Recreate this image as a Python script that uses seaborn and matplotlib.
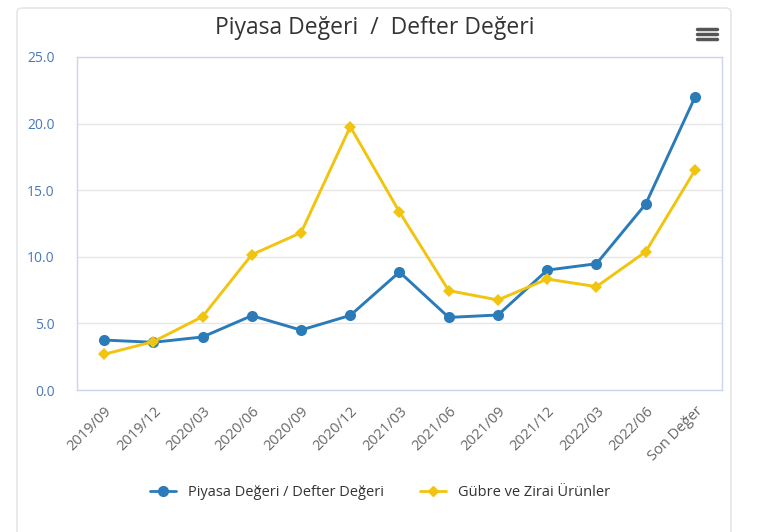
import pandas as pd
import seaborn as sns
import matplotlib.pyplot as plt
from matplotlib.patches import FancyBboxPatch

# veriler
donemler = ['2019/09', '2019/12', '2020/03', '2020/06', '2020/09', '2020/12',
            '2021/03', '2021/06', '2021/09', '2021/12', '2022/03', '2022/06', 'Son Değer']
piyasa_defter = [3.75, 3.58, 3.98, 5.58, 4.5, 5.6, 8.86, 5.45, 5.63, 9.0, 9.48, 13.96, 21.97]
gubre_zirai = [2.68, 3.63, 5.51, 10.16, 11.81, 19.77, 13.36, 7.46, 6.76, 8.33, 7.76, 10.38, 16.49]

seri1 = 'Piyasa Değeri / Defter Değeri'
seri2 = 'Gübre ve Zirai Ürünler'

df = pd.concat([
    pd.DataFrame({'donem': donemler, 'deger': piyasa_defter, 'seri': seri1}),
    pd.DataFrame({'donem': donemler, 'deger': gubre_zirai, 'seri': seri2}),
])
df['x'] = df.groupby('seri').cumcount()

sns.set_style('white')
plt.rcParams['font.family'] = ['Open Sans', 'DejaVu Sans']

fig = plt.figure(figsize=(7.59, 5.32), dpi=100)
ax = fig.add_axes([77 / 759, 1 - 390 / 532, (722 - 77) / 759, (390 - 57) / 532])

# kart çerçevesi
kart = FancyBboxPatch((17 / 759, -0.05), (731 - 17) / 759, 1 - 8 / 532 + 0.05,
                      boxstyle='round,pad=0,rounding_size=0.008',
                      transform=fig.transFigure, facecolor='white',
                      edgecolor='#e6e6e6', linewidth=1.2, zorder=-10)
fig.patches.append(kart)

renkler = {seri1: '#2b7bb9', seri2: '#f1c40f'}
sns.lineplot(data=df, x='x', y='deger', hue='seri', style='seri',
             markers={seri1: 'o', seri2: 'D'}, dashes=False,
             palette=renkler, linewidth=2.1, ax=ax, legend=False)
for line, ms in zip(ax.lines, [8, 6]):
    line.set_markersize(ms)
    line.set_markeredgewidth(0)

ax.set_xlim(-0.55, 12.55)
ax.set_ylim(0, 25)
ax.set_yticks([0, 5, 10, 15, 20, 25])
ax.set_yticklabels([f'{v:.1f}' for v in [0, 5, 10, 15, 20, 25]], color='#4a78b8', fontsize=10)
ax.set_xticks(range(len(donemler)))
ax.set_xticklabels(donemler, rotation=45, ha='right', rotation_mode='anchor',
                   color='#666666', fontsize=10.5)
ax.tick_params(axis='x', length=0, pad=10)
ax.tick_params(axis='y', length=0, pad=16)
ax.grid(axis='y', color='#e6e6e6', linewidth=1)
ax.set_axisbelow(True)
for s in ax.spines.values():
    s.set_color('#ccd6eb')
    s.set_linewidth(1)
ax.set_xlabel('')
ax.set_ylabel('')

fig.text(375 / 759, 1 - 28 / 532, 'Piyasa Değeri  /  Defter Değeri', ha='center', va='center',
         fontsize=16.5, color='#333333')

# menü simgesi
for dy in (-5, 0, 5):
    fig.add_artist(plt.Line2D([697 / 759, 717 / 759],
                              [1 - (34 + dy) / 532] * 2, color='#555555', linewidth=2.5))

# lejant
h1 = plt.Line2D([], [], color=renkler[seri1], marker='o', markersize=7, linewidth=2)
h2 = plt.Line2D([], [], color=renkler[seri2], marker='D', markersize=5, linewidth=2)
fig.legend([h1, h2], [seri1, seri2], loc='center', bbox_to_anchor=(380 / 759, 1 - 493 / 532),
           ncol=2, frameon=False, fontsize=10.5, handlelength=1.8, columnspacing=2.5,
           labelcolor='#333333')

fig.savefig('out.png', dpi=100)
